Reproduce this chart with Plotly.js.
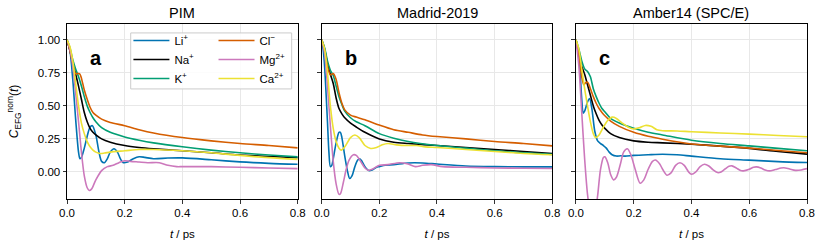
<!DOCTYPE html>
<html><head><meta charset="utf-8">
<script src="https://cdn.plot.ly/plotly-3.0.1.min.js"></script>
<style>html,body{margin:0;padding:0;background:#fff}#g{width:822px;height:247px}</style>
</head><body><div id="g"></div>
<script>
// ---------- DATA ----------
const panelTitles = ['PIM', 'Madrid-2019', 'Amber14 (SPC/E)'];
const panelLetters = ['a', 'b', 'c'];
const ionNames = ['Li<sup>+</sup>', 'Na<sup>+</sup>', 'K<sup>+</sup>', 'Cl<sup>\u2212</sup>', 'Mg<sup>2+</sup>', 'Ca<sup>2+</sup>'];
const ionColors = ['#0173b2', '#000000', '#029e73', '#d55e00', '#cc78bc', '#ece133'];
const xTicks = [0, 0.2, 0.4, 0.6, 0.8];
const yTicks = [0, 0.25, 0.5, 0.75, 1.0];

// PIM
const t_pim_li = [0,0.01,0.02,0.03,0.04,0.045,0.05,0.06,0.07,0.08,0.088,0.1,0.11,0.12,0.13,0.14,0.15,0.163,0.175,0.185,0.195,0.21,0.23,0.25,0.27,0.3,0.35,0.4,0.5,0.6,0.7,0.8];
const c_pim_li = [1,0.92,0.7,0.4,0.15,0.1,0.11,0.18,0.27,0.34,0.35,0.28,0.16,0.08,0.07,0.1,0.15,0.175,0.15,0.1,0.07,0.075,0.1,0.115,0.11,0.1,0.105,0.106,0.092,0.076,0.065,0.058];
const t_pim_na = [0,0.01,0.02,0.03,0.04,0.05,0.06,0.07,0.08,0.09,0.1,0.12,0.15,0.2,0.25,0.3,0.4,0.5,0.6,0.7,0.8];
const c_pim_na = [1,0.92,0.82,0.74,0.65,0.55,0.45,0.38,0.33,0.3,0.28,0.25,0.225,0.2,0.185,0.175,0.16,0.145,0.128,0.117,0.108];
const t_pim_k = [0,0.01,0.02,0.03,0.04,0.05,0.06,0.07,0.08,0.09,0.1,0.12,0.15,0.2,0.25,0.3,0.4,0.5,0.6,0.7,0.8];
const c_pim_k = [1,0.94,0.85,0.78,0.72,0.65,0.57,0.5,0.45,0.41,0.38,0.335,0.3,0.265,0.24,0.22,0.19,0.165,0.145,0.128,0.114];
const t_pim_cl = [0,0.01,0.02,0.03,0.04,0.045,0.05,0.06,0.07,0.08,0.09,0.1,0.12,0.15,0.2,0.25,0.3,0.4,0.5,0.6,0.7,0.8];
const c_pim_cl = [1,0.92,0.82,0.745,0.745,0.74,0.71,0.62,0.55,0.49,0.45,0.43,0.4,0.375,0.35,0.32,0.295,0.26,0.235,0.215,0.2,0.182];
const t_pim_mg = [0,0.01,0.02,0.03,0.04,0.05,0.06,0.07,0.077,0.085,0.1,0.12,0.14,0.16,0.18,0.2,0.22,0.25,0.28,0.32,0.35,0.38,0.4,0.5,0.6,0.7,0.8];
const c_pim_mg = [1,0.93,0.8,0.6,0.38,0.15,-0.03,-0.12,-0.14,-0.13,-0.06,0.01,0.04,0.05,0.07,0.085,0.08,0.075,0.07,0.07,0.05,0.04,0.04,0.04,0.035,0.03,0.025];
const t_pim_ca = [0,0.01,0.02,0.03,0.04,0.05,0.06,0.07,0.08,0.09,0.1,0.115,0.13,0.15,0.2,0.25,0.3,0.4,0.5,0.6,0.7,0.8];
const c_pim_ca = [1,0.95,0.84,0.67,0.5,0.37,0.29,0.23,0.19,0.165,0.15,0.14,0.143,0.15,0.16,0.17,0.17,0.16,0.145,0.125,0.108,0.095];

// Madrid-2019
const t_mad_li = [0,0.005,0.01,0.015,0.02,0.025,0.03,0.035,0.04,0.05,0.06,0.065,0.07,0.08,0.09,0.097,0.105,0.115,0.125,0.132,0.14,0.15,0.163,0.175,0.19,0.2,0.22,0.25,0.3,0.35,0.4,0.5,0.6,0.7,0.8];
const c_mad_li = [1,0.93,0.8,0.6,0.38,0.15,0.04,0.05,0.1,0.22,0.3,0.3,0.26,0.12,0.0,-0.05,-0.03,0.04,0.09,0.1,0.08,0.04,0.01,0.015,0.035,0.04,0.05,0.055,0.068,0.068,0.06,0.045,0.04,0.038,0.038];
const t_mad_na = [0,0.01,0.02,0.03,0.04,0.05,0.06,0.07,0.08,0.1,0.12,0.15,0.2,0.25,0.3,0.4,0.5,0.6,0.7,0.8];
const c_mad_na = [1,0.93,0.82,0.74,0.67,0.56,0.48,0.44,0.41,0.37,0.34,0.3,0.25,0.225,0.215,0.2,0.185,0.17,0.155,0.14];
const t_mad_k = [0,0.01,0.02,0.03,0.04,0.05,0.06,0.07,0.08,0.1,0.12,0.15,0.2,0.25,0.3,0.4,0.5,0.6,0.7,0.8];
const c_mad_k = [1,0.94,0.84,0.77,0.73,0.65,0.57,0.51,0.46,0.41,0.38,0.35,0.29,0.255,0.23,0.2,0.18,0.16,0.145,0.133];
const t_mad_cl = [0,0.01,0.02,0.03,0.04,0.05,0.06,0.07,0.08,0.1,0.12,0.15,0.2,0.25,0.3,0.35,0.4,0.5,0.6,0.7,0.8];
const c_mad_cl = [1,0.92,0.8,0.735,0.745,0.7,0.6,0.52,0.47,0.43,0.415,0.395,0.355,0.32,0.3,0.28,0.268,0.25,0.23,0.215,0.197];
const t_mad_mg = [0,0.01,0.02,0.03,0.04,0.05,0.06,0.065,0.075,0.085,0.095,0.11,0.12,0.135,0.15,0.162,0.175,0.2,0.23,0.27,0.3,0.325,0.35,0.38,0.42,0.5,0.6,0.7,0.8];
const c_mad_mg = [1,0.9,0.65,0.35,0.08,-0.09,-0.17,-0.165,-0.08,0.02,0.09,0.13,0.125,0.08,0.03,0.013,0.02,0.05,0.055,0.07,0.06,0.04,0.05,0.055,0.04,0.035,0.03,0.028,0.026];
const t_mad_ca = [0,0.01,0.02,0.03,0.04,0.05,0.06,0.068,0.08,0.1,0.115,0.13,0.15,0.17,0.19,0.21,0.23,0.26,0.3,0.33,0.36,0.4,0.5,0.6,0.7,0.8];
const c_mad_ca = [1,0.93,0.75,0.5,0.33,0.23,0.18,0.165,0.19,0.26,0.28,0.26,0.2,0.178,0.185,0.205,0.215,0.205,0.2,0.2,0.19,0.185,0.17,0.155,0.14,0.13];

// Amber14 (SPC/E)
const t_amb_li = [0,0.01,0.02,0.025,0.03,0.04,0.047,0.055,0.065,0.075,0.085,0.095,0.105,0.115,0.125,0.14,0.155,0.17,0.2,0.25,0.3,0.35,0.4,0.5,0.6,0.7,0.8];
const c_amb_li = [1,0.88,0.55,0.445,0.46,0.53,0.556,0.48,0.31,0.235,0.215,0.2,0.18,0.15,0.13,0.12,0.122,0.12,0.125,0.13,0.134,0.13,0.12,0.1,0.089,0.078,0.071];
const t_amb_na = [0,0.01,0.02,0.025,0.03,0.04,0.05,0.06,0.07,0.08,0.09,0.1,0.12,0.15,0.2,0.25,0.3,0.4,0.5,0.6,0.7,0.8];
const c_amb_na = [1,0.9,0.8,0.77,0.74,0.66,0.58,0.5,0.44,0.39,0.355,0.33,0.29,0.26,0.235,0.225,0.22,0.21,0.195,0.178,0.155,0.135];
const t_amb_k = [0,0.01,0.02,0.03,0.04,0.05,0.06,0.07,0.08,0.09,0.1,0.12,0.15,0.2,0.25,0.3,0.4,0.5,0.6,0.7,0.8];
const c_amb_k = [1,0.93,0.84,0.78,0.76,0.72,0.63,0.57,0.52,0.48,0.455,0.405,0.37,0.33,0.3,0.28,0.24,0.215,0.197,0.178,0.16];
const t_amb_cl = [0,0.01,0.02,0.027,0.033,0.04,0.05,0.06,0.07,0.08,0.09,0.1,0.12,0.15,0.2,0.25,0.3,0.4,0.5,0.6,0.7,0.8];
const c_amb_cl = [1,0.88,0.72,0.66,0.675,0.68,0.63,0.57,0.52,0.48,0.45,0.425,0.385,0.345,0.3,0.27,0.248,0.212,0.195,0.18,0.162,0.145];
const t_amb_mg = [0,0.01,0.02,0.03,0.04,0.05,0.058,0.066,0.075,0.085,0.095,0.1,0.11,0.12,0.13,0.14,0.155,0.165,0.178,0.19,0.205,0.222,0.235,0.25,0.265,0.275,0.29,0.3,0.315,0.33,0.345,0.36,0.375,0.39,0.4,0.415,0.43,0.445,0.46,0.475,0.49,0.5,0.515,0.53,0.54,0.555,0.57,0.58,0.6,0.615,0.625,0.64,0.655,0.67,0.69,0.71,0.72,0.74,0.76,0.78,0.8];
const c_amb_mg = [1,0.8,0.45,0.1,-0.17,-0.32,-0.36,-0.32,-0.18,0.02,0.11,0.115,0.07,-0.02,-0.06,-0.04,0.07,0.15,0.175,0.13,0.02,-0.085,-0.06,0.02,0.08,0.09,0.06,0.02,-0.025,-0.005,0.05,0.07,0.05,0.0,-0.018,0.0,0.04,0.058,0.045,0.015,-0.005,-0.003,0.02,0.043,0.046,0.03,0.01,0.008,0.02,0.035,0.038,0.03,0.015,0.008,0.018,0.03,0.032,0.022,0.012,0.015,0.025];
const t_amb_ca = [0,0.01,0.02,0.03,0.04,0.05,0.06,0.068,0.08,0.095,0.11,0.125,0.14,0.16,0.18,0.2,0.22,0.24,0.26,0.28,0.3,0.35,0.4,0.5,0.6,0.7,0.8];
const c_amb_ca = [1,0.93,0.78,0.63,0.5,0.38,0.29,0.26,0.28,0.34,0.39,0.415,0.405,0.37,0.34,0.325,0.335,0.352,0.345,0.32,0.312,0.31,0.304,0.295,0.286,0.276,0.266];

// ---------- BUILD ----------
const panels = [
  [[t_pim_li,c_pim_li],[t_pim_na,c_pim_na],[t_pim_k,c_pim_k],[t_pim_cl,c_pim_cl],[t_pim_mg,c_pim_mg],[t_pim_ca,c_pim_ca]],
  [[t_mad_li,c_mad_li],[t_mad_na,c_mad_na],[t_mad_k,c_mad_k],[t_mad_cl,c_mad_cl],[t_mad_mg,c_mad_mg],[t_mad_ca,c_mad_ca]],
  [[t_amb_li,c_amb_li],[t_amb_na,c_amb_na],[t_amb_k,c_amb_k],[t_amb_cl,c_amb_cl],[t_amb_mg,c_amb_mg],[t_amb_ca,c_amb_ca]]
];
const FONT = 'Liberation Sans, Arial, Helvetica, sans-serif';
const traces = [];
panels.forEach((series, p) => {
  series.forEach((s, i) => {
    traces.push({
      type: 'scatter', mode: 'lines', x: s[0], y: s[1],
      name: ionNames[i],
      xaxis: p === 0 ? 'x' : 'x' + (p + 1),
      yaxis: p === 0 ? 'y' : 'y' + (p + 1),
      line: {color: ionColors[i], width: 1.6, shape: 'spline', smoothing: 0.8},
      showlegend: p === 0,
      legend: i < 3 ? 'legend' : 'legend2',
      hoverinfo: 'skip'
    });
  });
});

const doms = [[0, 0.3118], [0.3442, 0.6558], [0.6878, 1]];
const legendCommon = {xanchor: 'left', y: 0.989, yanchor: 'top', bgcolor: 'rgba(0,0,0,0)', borderwidth: 0,
                      font: {family: FONT, size: 11.5, color: '#000'}, tracegroupgap: 0, itemwidth: 36};
const layout = {
  width: 822, height: 247,
  margin: {l: 67, r: 15, t: 24, b: 48},
  paper_bgcolor: '#fff', plot_bgcolor: '#fff',
  font: {family: FONT, size: 11, color: '#000'},
  showlegend: true,
  legend: Object.assign({x: 0.083}, legendCommon),
  legend2: Object.assign({x: 0.198}, legendCommon),
  annotations: [],
  shapes: [{type: 'rect', xref: 'paper', yref: 'paper', x0: 0.0861, x1: 0.3036, y0: 0.629, y1: 0.949,
            fillcolor: 'rgba(255,255,255,0.85)', line: {color: '#cccccc', width: 1}, layer: 'above'}]
};
for (let p = 0; p < 3; p++) {
  const sx = p === 0 ? '' : String(p + 1);
  layout['xaxis' + sx] = {
    domain: doms[p], anchor: 'y' + sx, range: [0, 0.8],
    tickvals: xTicks, ticktext: xTicks.map(v => v.toFixed(1)),
    ticks: 'outside', ticklen: 3.5, tickwidth: 0.8, tickcolor: '#000',
    showline: true, linecolor: '#000', linewidth: 1, mirror: true,
    showgrid: true, gridcolor: '#e8e8e8', gridwidth: 1, zeroline: false,
    tickfont: {family: FONT, size: 11.5, color: '#000'},
    title: {text: '<i>t</i> / ps', font: {family: FONT, size: 11.5}, standoff: 11}
  };
  layout['yaxis' + sx] = {
    domain: [0, 1], anchor: 'x' + sx, range: [-0.205, 1.12],
    tickvals: yTicks, ticktext: yTicks.map(v => v.toFixed(2)),
    showticklabels: p === 0,
    ticks: 'outside', ticklen: 3.5, tickwidth: 0.8, tickcolor: '#000',
    showline: true, linecolor: '#000', linewidth: 1, mirror: true,
    showgrid: true, gridcolor: '#e8e8e8', gridwidth: 1, zeroline: false,
    tickfont: {family: FONT, size: 11.5, color: '#000'}
  };
  if (p === 0) {
    layout.yaxis.title = {text: '<i>C</i><sub>EFG</sub><sup>nom</sup>(<i>t</i>)', font: {family: FONT, size: 12}, standoff: 16};
  }
  layout.annotations.push({
    text: panelTitles[p], xref: 'x' + sx + ' domain', yref: 'y' + sx + ' domain', x: 0.5, y: 1,
    xanchor: 'center', yanchor: 'bottom', yshift: 1, showarrow: false,
    font: {family: FONT, size: 14.5, color: '#000'}
  });
  layout.annotations.push({
    text: '<b>' + panelLetters[p] + '</b>', xref: 'x' + sx, yref: 'y' + sx, x: 0.1, y: 0.86,
    xanchor: 'center', yanchor: 'middle', showarrow: false,
    font: {family: FONT, size: 20, color: '#000'}
  });
}
Plotly.newPlot('g', traces, layout, {staticPlot: true, displayModeBar: false});
</script></body></html>
